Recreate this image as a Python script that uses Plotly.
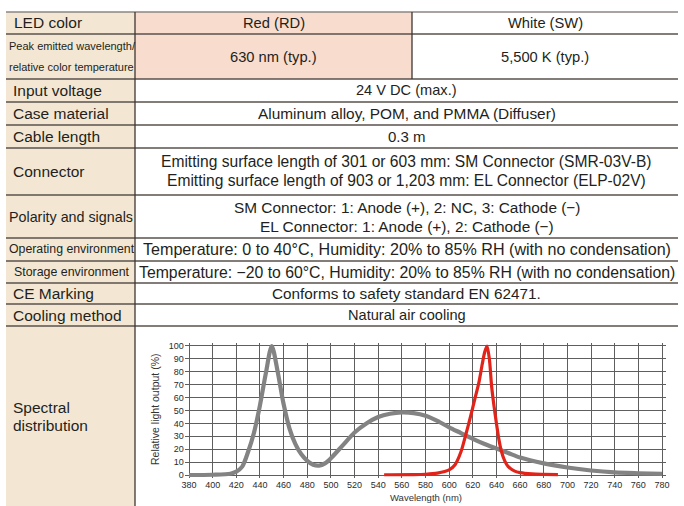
import plotly.graph_objects as go

# ---------------- data ----------------
wl_white = [380, 400, 415, 420, 425, 430, 435, 440, 445, 450, 455, 460, 465, 470,
            475, 480, 485, 490, 495, 500, 510, 520, 530, 540, 550, 560, 570, 580,
            590, 600, 610, 620, 630, 640, 650, 660, 680, 700, 720, 740, 760, 780]
rel_white = [0, 0.2, 1, 2.6, 6.5, 18, 33, 54, 79, 100, 80, 55, 36, 24,
             16, 11, 8, 7.3, 9, 13, 23, 33, 40, 45, 47.5, 48.5, 48, 46,
             42, 37, 32.5, 28, 24, 20.5, 17, 13.5, 9, 5.8, 3.5, 2, 1.3, 0.8]

wl_red = [545, 570, 580, 590, 600, 605, 610, 614, 618, 622, 625, 628, 630, 632,
          634, 636, 638, 640, 642, 644, 647, 650, 655, 660, 670, 680, 692]
rel_red = [0.2, 0.3, 0.6, 1.5, 4, 8, 18, 31, 45, 60, 71, 86, 95, 100,
           90, 68, 53, 40, 28, 19, 11, 6.5, 3.2, 1.8, 0.8, 0.5, 0.3]

x_ticks = list(range(380, 781, 20))
y_ticks = list(range(0, 101, 10))

row_labels = [
    ["LED color"],
    ["Peak emitted wavelength/", "relative color temperature"],
    ["Input voltage"],
    ["Case material"],
    ["Cable length"],
    ["Connector"],
    ["Polarity and signals"],
    ["Operating environment"],
    ["Storage environment"],
    ["CE Marking"],
    ["Cooling method"],
    ["Spectral", "distribution"],
]
red_values = [["Red (RD)"], ["630 nm (typ.)"]]
white_values = [["White (SW)"], ["5,500 K (typ.)"]]
common_values = [
    ["24 V DC (max.)"],
    ["Aluminum alloy, POM, and PMMA (Diffuser)"],
    ["0.3 m"],
    ["Emitting surface length of 301 or 603 mm: SM Connector (SMR-03V-B)",
     "Emitting surface length of 903 or 1,203 mm: EL Connector (ELP-02V)"],
    ["SM Connector: 1: Anode (+), 2: NC, 3: Cathode (\u2212)",
     "EL Connector: 1: Anode (+), 2: Cathode (\u2212)"],
    ["Temperature: 0 to 40\u00b0C, Humidity: 20% to 85% RH (with no condensation)"],
    ["Temperature: \u221220 to 60\u00b0C, Humidity: 20% to 85% RH (with no condensation)"],
    ["Conforms to safety standard EN 62471."],
    ["Natural air cooling"],
]

# ---------------- layout geometry (pixels) ----------------
W, H = 684, 506
row_edges = [12, 34, 79, 102, 125, 148, 195, 238, 261, 283, 304, 326, 506]
X0, XC1, XC2, X1 = 6, 135, 412, 678
label_x = [13, 8, 12, 12, 12, 12, 8, 8, 13, 12, 12, 12]
label_size = [15.5, 11, 15.5, 15.5, 15.5, 15.5, 14.3, 12.3, 12.4, 15.5, 15.5, 15.5]
value_size = [14.7, 14.7, 14.6, 15.4, 15, 15.6, 15.4, 16.1, 15.8, 15.3, 14.6]
line_gap = [0, 21, 0, 0, 0, 19, 19, 0, 0, 0, 0, 18]

FONT = "Liberation Sans, Arial, sans-serif"
TXT = "#231f20"


def px(x):
    return x / W


def py(y):
    return 1 - y / H


fig = go.Figure()

# spectral curves
fig.add_trace(go.Scatter(x=wl_white, y=rel_white, mode="lines",
                         line=dict(color="#838383", width=4.2, shape="spline", smoothing=0.8),
                         hoverinfo="skip", showlegend=False))
fig.add_trace(go.Scatter(x=wl_red, y=rel_red, mode="lines",
                         line=dict(color="#e2231a", width=3.2, shape="spline", smoothing=0.8),
                         hoverinfo="skip", showlegend=False))

# plot area geometry: 380 nm -> x=189, 780 nm -> x=662; 0% -> y=475, 100% -> y=346
PX0, PX1, PY0, PY100 = 189, 662, 475, 346
kx = (PX1 - PX0) / 400.0
ky = (PY0 - PY100) / 100.0
xr = [376.5, 783.5]
yr = [-2.5, 102.5]
xdom = [px(PX0 + (xr[0] - 380) * kx), px(PX0 + (xr[1] - 380) * kx)]
ydom = [py(PY0 - yr[0] * ky), py(PY0 - yr[1] * ky)]

shapes = []
annotations = []

# cell backgrounds
shapes.append(dict(type="rect", xref="paper", yref="paper", layer="below",
                   x0=px(X0), x1=px(XC1), y0=py(row_edges[-1]), y1=py(row_edges[0]),
                   fillcolor="#f3e7d4", line=dict(width=0)))
shapes.append(dict(type="rect", xref="paper", yref="paper", layer="below",
                   x0=px(XC1), x1=px(XC2), y0=py(row_edges[2]), y1=py(row_edges[0]),
                   fillcolor="#f8dccd", line=dict(width=0)))

# horizontal rules
for i, y in enumerate(row_edges[:-1]):
    col = "#8c8682" if i == 0 else "#5a524e"
    shapes.append(dict(type="line", xref="paper", yref="paper", layer="above",
                       x0=px(X0), x1=px(X1), y0=py(y), y1=py(y),
                       line=dict(color=col, width=1.3)))
# vertical rules
shapes.append(dict(type="line", xref="paper", yref="paper", layer="above",
                   x0=px(XC1), x1=px(XC1), y0=py(row_edges[0]), y1=py(row_edges[-1]),
                   line=dict(color="#3f3532", width=1.3)))
shapes.append(dict(type="line", xref="paper", yref="paper", layer="above",
                   x0=px(XC2), x1=px(XC2), y0=py(row_edges[0]), y1=py(row_edges[2]),
                   line=dict(color="#3f3532", width=1.3)))


def add_lines(lines, x, yc, size, gap, anchor):
    n = len(lines)
    for k, t in enumerate(lines):
        y = yc + (k - (n - 1) / 2.0) * gap
        annotations.append(dict(text=t, xref="paper", yref="paper", x=px(x), y=py(y),
                                xanchor=anchor, yanchor="middle", showarrow=False,
                                borderpad=0, font=dict(family=FONT, size=size, color=TXT)))


for i, lab in enumerate(row_labels):
    yc = (row_edges[i] + row_edges[i + 1]) / 2.0
    add_lines(lab, label_x[i], yc, label_size[i], line_gap[i], "left")

for i in range(2):
    yc = (row_edges[i] + row_edges[i + 1]) / 2.0
    add_lines(red_values[i], (XC1 + XC2) / 2.0, yc, value_size[i], line_gap[i], "center")
    add_lines(white_values[i], (XC2 + X1) / 2.0, yc, value_size[i], line_gap[i], "center")

for j, vals in enumerate(common_values):
    i = j + 2
    yc = (row_edges[i] + row_edges[i + 1]) / 2.0
    add_lines(vals, (XC1 + X1) / 2.0, yc, value_size[i], line_gap[i], "center")

# chart axis titles
annotations.append(dict(text="Relative light output (%)", xref="paper", yref="paper",
                        x=px(155), y=py(410), textangle=-90, showarrow=False,
                        xanchor="center", yanchor="middle",
                        font=dict(family=FONT, size=10.5, color="#333333")))
annotations.append(dict(text="Wavelength (nm)", xref="paper", yref="paper",
                        x=px((PX0 + PX1) / 2.0), y=py(497), showarrow=False,
                        xanchor="center", yanchor="middle",
                        font=dict(family=FONT, size=9.5, color="#333333")))

grid = dict(showgrid=True, gridcolor="#5e5e5e", gridwidth=1, zeroline=False,
            showline=False, ticks="", automargin=False, fixedrange=True,
            tickfont=dict(family=FONT, size=9, color="#2b2b2b"))

fig.update_layout(
    width=W, height=H,
    margin=dict(l=0, r=0, t=0, b=0),
    paper_bgcolor="white",
    plot_bgcolor="rgba(0,0,0,0)",
    showlegend=False,
    shapes=shapes,
    annotations=annotations,
    xaxis=dict(domain=xdom, range=xr, tickmode="array", tickvals=x_ticks,
               ticktext=[str(v) for v in x_ticks], **grid),
    yaxis=dict(domain=ydom, range=yr, tickmode="array", tickvals=y_ticks,
               ticktext=[str(v) for v in y_ticks], **grid),
)

fig.write_html("out.html", config={"displayModeBar": False, "staticPlot": True},
               post_script="document.body.style.margin='0';document.body.style.overflow='hidden';")
